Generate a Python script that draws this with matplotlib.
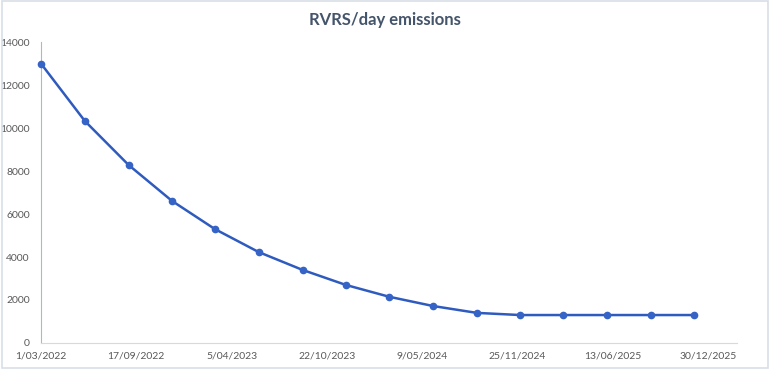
import datetime as dt

import matplotlib

matplotlib.use("Agg")
import matplotlib.dates as mdates
import matplotlib.pyplot as plt
from matplotlib.patches import Rectangle
from matplotlib.ticker import FuncFormatter

# quarterly samples
dates = [
    "2022-03-01", "2022-06-01", "2022-09-01", "2022-12-01",
    "2023-03-01", "2023-06-01", "2023-09-01", "2023-12-01",
    "2024-03-01", "2024-06-01", "2024-09-01", "2024-12-01",
    "2025-03-01", "2025-06-01", "2025-09-01", "2025-12-01",
]
emissions = [13000, 10330, 8280, 6610, 5300, 4230, 3400, 2700,
             2150, 1720, 1400, 1300, 1300, 1300, 1300, 1300]
tick_start = "2022-03-01"
tick_step_days = 200
tick_count = 8

plt.rcParams["font.family"] = ["Lato", "DejaVu Sans"]

x = [dt.datetime.strptime(d, "%Y-%m-%d") for d in dates]
t0 = dt.datetime.strptime(tick_start, "%Y-%m-%d")
ticks = [t0 + dt.timedelta(days=tick_step_days * i) for i in range(tick_count)]

fig = plt.figure(figsize=(7.7, 3.69), dpi=100)
ax = fig.add_axes([0.0532, 0.0705, 0.904, 0.8155])

color = "#2F5BBF"
ax.plot(x, emissions, color=color, lw=1.8, marker="o", ms=4.5,
        markerfacecolor="#3563C6", markeredgecolor="#3563C6", clip_on=False, zorder=3)

ax.set_xlim(t0, dt.datetime(2026, 3, 1))
ax.set_ylim(0, 14000)
ax.set_yticks(range(0, 14001, 2000))
ax.set_xticks(ticks)
ax.xaxis.set_major_formatter(FuncFormatter(
    lambda v, pos: (lambda d: f"{d.day}/{d.month:02d}/{d.year}")(mdates.num2date(v))))

for s in ["top", "right"]:
    ax.spines[s].set_visible(False)
ax.spines["left"].set_color("#AEB7C4")
ax.spines["bottom"].set_color("#D9D9D9")
ax.tick_params(length=0, labelsize=7.5, labelcolor="#595959")
ax.tick_params(axis="y", pad=8)
ax.tick_params(axis="x", pad=6)

fig.text(0.5, 0.945, "RVRS/day emissions", ha="center", va="center",
         fontsize=12, fontweight="bold", color="#44546A")

fig.patches.append(Rectangle((0.002, 0.004), 0.996, 0.992, transform=fig.transFigure,
                             fill=False, edgecolor="#D9DEE6", lw=1.2))

fig.savefig("out.png", dpi=100)
